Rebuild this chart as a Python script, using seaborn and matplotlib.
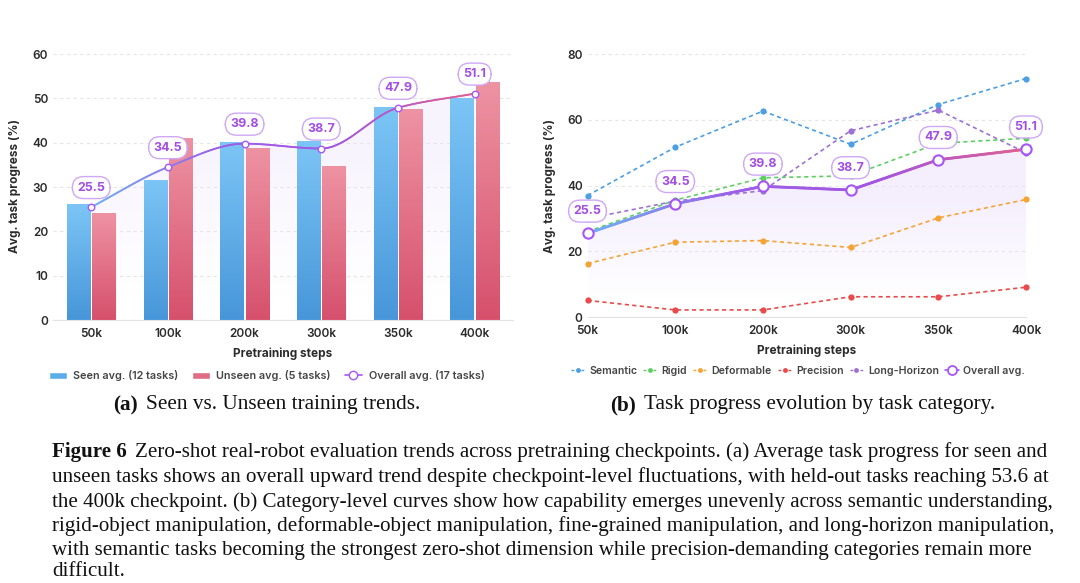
import numpy as np
import pandas as pd
import seaborn as sns
import matplotlib.pyplot as plt
from matplotlib.collections import LineCollection
from matplotlib.colors import LinearSegmentedColormap
from matplotlib.lines import Line2D
from matplotlib.patches import Patch

# data
steps = ["50k", "100k", "200k", "300k", "350k", "400k"]
seen = [26.1, 31.7, 40.2, 40.5, 48.1, 50.0]
unseen = [24.2, 41.1, 38.9, 34.8, 47.6, 53.6]
overall = [25.5, 34.5, 39.8, 38.7, 47.9, 51.1]

categories = ["Semantic", "Rigid", "Deformable", "Precision", "Long-Horizon"]
semantic = [37.0, 51.7, 62.7, 52.6, 64.7, 72.6]
rigid = [26.0, 35.6, 42.4, 43.0, 52.9, 54.4]
deformable = [16.3, 22.8, 23.3, 21.2, 30.2, 35.8]
precision = [5.1, 2.2, 2.2, 6.2, 6.2, 9.1]
long_horizon = [30.0, 35.3, 38.5, 56.7, 63.0, 50.0]
cat_colors = ["#4c9fe3", "#5fcf63", "#f5a334", "#ea4a4a", "#9d72d4"]

sns.set_style("white")
plt.rcParams["font.family"] = ["Inter", "DejaVu Sans"]

PURPLE = "#a855f7"
TXT = "#2b2b2b"
line_cmap = LinearSegmentedColormap.from_list("ov", ["#6fb0f5", "#9d5fe6", "#a455e0", "#e0608f"])

fig = plt.figure(figsize=(10.8, 5.83), dpi=100)
ax1 = fig.add_axes([0.049, 0.451, 0.426, 0.460])
ax2 = fig.add_axes([0.544, 0.456, 0.406, 0.451])


def style_axis(ax, ymax, step):
    ax.set_ylim(0, ymax)
    ax.set_yticks(np.arange(0, ymax + 1, step))
    ax.yaxis.grid(True, linestyle=(0, (3, 3)), color="#e6e6e6", lw=0.8)
    ax.set_axisbelow(True)
    for s in ["top", "right", "left"]:
        ax.spines[s].set_visible(False)
    ax.spines["bottom"].set_color("#e3e3e3")
    ax.tick_params(length=0, labelsize=8.5, labelcolor=TXT)
    ax.tick_params(axis="x", pad=6)
    for lab in ax.get_xticklabels() + ax.get_yticklabels():
        lab.set_fontweight("semibold")
    ax.set_ylabel("Avg. task progress (%)", fontsize=8.5, fontweight="bold", color=TXT, labelpad=8)
    ax.set_xlabel("Pretraining steps", fontsize=8.5, fontweight="bold", color=TXT, labelpad=5)


def gradient_line(ax, xs, ys, lw, z):
    pts = np.column_stack([xs, ys]).reshape(-1, 1, 2)
    segs = np.concatenate([pts[:-1], pts[1:]], axis=1)
    lc = LineCollection(segs, cmap=line_cmap, linewidths=lw, zorder=z, capstyle="round")
    lc.set_array((np.asarray(xs[:-1]) - xs[0]) / (xs[-1] - xs[0]))
    lc.set_clim(0, 1)
    ax.add_collection(lc)


def fade_fill(ax, xs, ys, top_alpha, z):
    poly = ax.fill_between(xs, 0, ys, color="none", lw=0)
    grad = np.linspace(0, 1, 256).reshape(-1, 1)
    rgba = np.zeros((256, 1, 4))
    rgba[..., :3] = np.array([0.93, 0.89, 0.99])
    rgba[..., 3] = top_alpha * np.clip((grad - 0.1) / 0.6, 0, 1)
    im = ax.imshow(rgba, extent=[xs[0], xs[-1], 0, max(ys)], origin="lower", aspect="auto", zorder=z)
    im.set_clip_path(poly.get_paths()[0], transform=ax.transData)


def label_boxes(ax, ys, off):
    for i, v in enumerate(ys):
        ax.annotate(f"{v}", (i, v), xytext=(0, off), textcoords="offset points", ha="center", va="center",
                    fontsize=9, fontweight="bold", color="#a34fe3", zorder=6,
                    bbox=dict(boxstyle="round,pad=0.4,rounding_size=0.9", fc="white", ec="#cfa8f5", lw=1))


def monotone(ys, n=60):
    y = np.asarray(ys, float)
    d = np.diff(y)
    m = np.zeros_like(y)
    m[0], m[-1] = d[0], d[-1]
    for i in range(1, len(y) - 1):
        if d[i - 1] * d[i] > 0:
            m[i] = 2 / (1 / d[i - 1] + 1 / d[i])
    xs, out = [], []
    t = np.linspace(0, 1, n)
    for i in range(len(y) - 1):
        h00 = 2 * t**3 - 3 * t**2 + 1
        h10 = t**3 - 2 * t**2 + t
        h01 = -2 * t**3 + 3 * t**2
        h11 = t**3 - t**2
        xs.append(i + t)
        out.append(h00 * y[i] + h10 * m[i] + h01 * y[i + 1] + h11 * m[i + 1])
    return np.concatenate(xs), np.concatenate(out)


# ---------------- (a) bars ----------------
df_bars = pd.DataFrame({
    "step": steps * 2,
    "value": seen + unseen,
    "group": ["Seen avg. (12 tasks)"] * 6 + ["Unseen avg. (5 tasks)"] * 6,
})
sns.barplot(data=df_bars, x="step", y="value", hue="group", palette=["#5aaeea", "#e06c85"],
            width=0.66, gap=0.08, ax=ax1, legend=False, edgecolor="white", linewidth=0.6, zorder=2)

grad = np.linspace(0, 1, 256).reshape(-1, 1)
bar_cmaps = [LinearSegmentedColormap.from_list("s", ["#4796d9", "#7cc5f6"]),
             LinearSegmentedColormap.from_list("u", ["#d6506c", "#ee93a3"])]
for cont, cm in zip(ax1.containers, bar_cmaps):
    for p in cont.patches:
        x0, w, h = p.get_x(), p.get_width(), p.get_height()
        im = ax1.imshow(grad, extent=[x0, x0 + w, 0, h], origin="lower", cmap=cm, aspect="auto", zorder=2.5)
        im.set_clip_path(p)

sx, sy = monotone(overall)
fade_fill(ax1, sx, sy, 0.35, 1.5)
gradient_line(ax1, sx, sy, 1.3, 4)
ax1.scatter(range(6), overall, s=22, facecolor="white", edgecolor=PURPLE, lw=1, zorder=5)
label_boxes(ax1, overall, 14)
ax1.set_xlim(-0.5, 5.5)
style_axis(ax1, 60.5, 10)
ax1.set_yticks(np.arange(0, 61, 10))

h1 = [Patch(facecolor="#5aaeea"), Patch(facecolor="#e06c85"),
      Line2D([], [], color=PURPLE, lw=1.2, marker="o", mfc="white", mec=PURPLE, ms=6)]
leg1 = ax1.legend(h1, ["Seen avg. (12 tasks)", "Unseen avg. (5 tasks)", "Overall avg. (17 tasks)"],
                  loc="upper center", bbox_to_anchor=(0.465, -0.15), ncol=3, frameon=False, fontsize=7.8,
                  handlelength=1.6, handleheight=0.6, handletextpad=0.6, columnspacing=1.3, labelcolor="#444444")
for t in leg1.get_texts():
    t.set_fontweight("semibold")

# ---------------- (b) categories ----------------
df_cat = pd.DataFrame({
    "step": steps * 5,
    "value": semantic + rigid + deformable + precision + long_horizon,
    "category": [c for c in categories for _ in steps],
})
sns.lineplot(data=df_cat, x="step", y="value", hue="category", palette=cat_colors, marker="o",
             markersize=4.5, markeredgewidth=0, linestyle=(0, (2.5, 2)), lw=1.2, ax=ax2,
             legend=False, zorder=3, clip_on=False)

fade_fill(ax2, np.arange(6, dtype=float), np.array(overall), 0.55, 1.5)
xs = np.linspace(0, 5, 300)
gradient_line(ax2, xs, np.interp(xs, range(6), overall), 2.0, 4)
ax2.scatter(range(6), overall, s=55, facecolor="white", edgecolor=PURPLE, lw=1.5, zorder=5, clip_on=False)
label_boxes(ax2, overall, 16)
ax2.set_xlim(0, 5)
style_axis(ax2, 80, 20)

h2 = [Line2D([], [], color=c, lw=1, ls=(0, (2, 1.6)), marker="o", ms=3.5, mew=0) for c in cat_colors]
h2.append(Line2D([], [], color=PURPLE, lw=1.2, marker="o", mfc="white", mec=PURPLE, ms=6.5, mew=1.3))
leg2 = ax2.legend(h2, categories + ["Overall avg."], loc="upper center", bbox_to_anchor=(0.48, -0.15), ncol=6,
                  frameon=False, fontsize=7.6, handlelength=1.3, columnspacing=0.55, handletextpad=0.45,
                  labelcolor="#444444")
for t in leg2.get_texts():
    t.set_fontweight("semibold")

# ---------------- captions ----------------
serif = "Liberation Serif"
renderer = fig.canvas.get_renderer()


def bold_then_text(x_px, y_px, head, body, size, gap_px):
    y = 1 - y_px / 583
    h = fig.text(x_px / 1080, y, head, family=serif, weight="bold", fontsize=size, va="center", color="#111111")
    w = h.get_window_extent(renderer).width
    fig.text((x_px + w + gap_px) / 1080, y, body, family=serif, fontsize=size, va="center", color="#111111")


bold_then_text(113, 405, "(a)", "Seen vs. Unseen training trends.", 15.3, 8)
bold_then_text(610, 405, "(b)", "Task progress evolution by task category.", 15.3, 8)

caption = [
    "Zero-shot real-robot evaluation trends across pretraining checkpoints. (a) Average task progress for seen and",
    "unseen tasks shows an overall upward trend despite checkpoint-level fluctuations, with held-out tasks reaching 53.6 at",
    "the 400k checkpoint. (b) Category-level curves show how capability emerges unevenly across semantic understanding,",
    "rigid-object manipulation, deformable-object manipulation, fine-grained manipulation, and long-horizon manipulation,",
    "with semantic tasks becoming the strongest zero-shot dimension while precision-demanding categories remain more",
    "difficult.",
]
line_y = [452, 477, 502, 526, 550, 572]
bold_then_text(52, line_y[0], "Figure 6", caption[0], 15.1, 8)
for txt, y in zip(caption[1:], line_y[1:]):
    fig.text(52 / 1080, 1 - y / 583, txt, family=serif, fontsize=15.1, va="center", color="#111111")

fig.savefig("out.png", dpi=100, facecolor="white")
